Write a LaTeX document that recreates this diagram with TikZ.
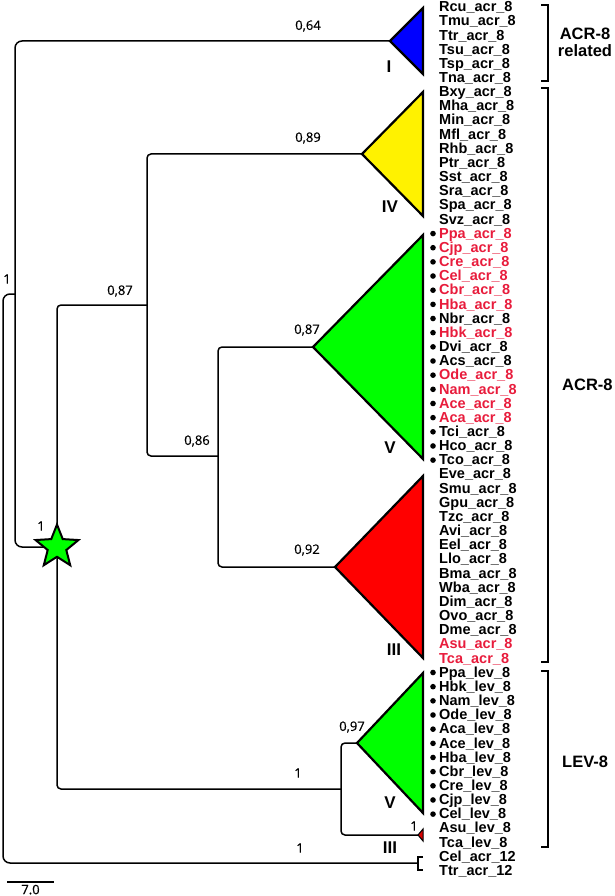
\documentclass[tikz,border=0pt]{standalone}
\usepackage{fontspec}
\setmainfont{Liberation Sans}
\newfontfamily\valfont[FakeBold=0.6]{Open Sans}
\usetikzlibrary{shapes.geometric}
\definecolor{hlred}{RGB}{232,28,60}
\begin{document}
\begin{tikzpicture}[x=1pt,y=-1pt,
  treeline/.style={line width=1.5, rounded corners=4},
  clade/.style={draw=black, line width=2.2, line join=miter},
  groupbracket/.style={line width=2.5},
  taxon/.style={anchor=base west, inner sep=0, font=\fontsize{14.5}{16}\selectfont\bfseries},
  val/.style={inner sep=0, font=\valfont\fontsize{13}{14}\selectfont},
  cladeid/.style={inner sep=0, font=\fontsize{17}{18}\selectfont\bfseries},
  clustername/.style={inner sep=0, align=center, font=\fontsize{16.5}{17}\selectfont\bfseries},
  startip/.style={star, star points=5, star point ratio=2.3, minimum size=45, inner sep=0, draw, fill=green, line width=2}]
\useasboundingbox (0,0) rectangle (615,896);
\coordinate (root) at (3,578);
\coordinate (nA) at (15,294);
\coordinate (nStar) at (57,547);
\coordinate (n87) at (147,305);
\coordinate (n86) at (218,456);
\coordinate (nLev) at (341,789);
\coordinate (out12) at (418,863);
\coordinate (apI) at (390,41);
\coordinate (apIV) at (362,154);
\coordinate (apV) at (313,347);
\coordinate (apIII) at (335,567);
\coordinate (apLevV) at (357,743);
\coordinate (apLevIII) at (418,835);
\coordinate (cel12) at (423,857);
\coordinate (ttr12) at (423,870);
\draw[treeline, rounded corners=7] (nA) -| (root) |- (out12);
\draw[treeline, rounded corners=7] (apI) -| (nA) |- (nStar);
\draw[treeline] (n87) -| (nStar) |- (nLev);
\draw[treeline] (apIV) -| (n87) |- (n86);
\draw[treeline] (apV) -| (n86) |- (apIII);
\draw[treeline] (apLevV) -| (nLev) |- (apLevIII);
\draw[line width=1.5] (cel12) -| (out12) |- (ttr12);
\node[startip] (star) at (nStar) {};
\draw[clade, fill=blue] (apI) -- (423,8) -- (423,74) -- cycle;
\draw[clade, fill=yellow] (apIV) -- (423,92) -- (423,216) -- cycle;
\draw[clade, fill=green] (apV) -- (423,235) -- (423,459) -- cycle;
\draw[clade, fill=red] (apIII) -- (423,476) -- (423,658) -- cycle;
\draw[clade, fill=green] (apLevV) -- (423,673) -- (423,813) -- cycle;
\draw[line width=1, fill=red!85!black] (apLevIII) -- (423,829) -- (423,841) -- cycle;
\node[val] (b1) at (7,279) {1};
\node[val] (b2) at (308,26) {0,64};
\node[val] (b3) at (308,138) {0,89};
\node[val] (b4) at (120,291) {0,87};
\node[val] (b5) at (197,441) {0,86};
\node[val] (b6) at (307,330) {0,87};
\node[val] (b7) at (307,550) {0,92};
\node[val] (b8) at (41,526) {1};
\node[val] (b9) at (298,773) {1};
\node[val] (b10) at (352,727) {0,97};
\node[val] (b11) at (414,826) {1};
\node[val] (b12) at (300,848) {1};
\node[cladeid] (cI) at (389,67) {I};
\node[cladeid] (cIV) at (390,207) {IV};
\node[cladeid] (cV) at (390,448) {V};
\node[cladeid] (cIII) at (394,650) {III};
\node[cladeid] (cLevV) at (390,803) {V};
\node[cladeid] (cLevIII) at (390,848) {III};
\foreach \tx/\c [count=\i from 0] in {Rcu/black,Tmu/black,Ttr/black,Tsu/black,Tsp/black,Tna/black,
  Bxy/black,Mha/black,Min/black,Mfl/black,Rhb/black,Ptr/black,Sst/black,Sra/black,Spa/black,Svz/black,
  Ppa/hlred,Cjp/hlred,Cre/hlred,Cel/hlred,Cbr/hlred,Hba/hlred,Nbr/black,Hbk/hlred,Dvi/black,Acs/black,
  Ode/hlred,Nam/hlred,Ace/hlred,Aca/hlred,Tci/black,Hco/black,Tco/black,
  Eve/black,Smu/black,Gpu/black,Tzc/black,Avi/black,Eel/black,Llo/black,Bma/black,Wba/black,Dim/black,
  Ovo/black,Dme/black,Asu/hlred,Tca/hlred}
  \node[taxon, text=\c] (t\i) at (439,{11.7+14.16*\i}) {\tx\_acr\_8};
\foreach \tx [count=\i from 47] in {Ppa,Hbk,Nam,Ode,Aca,Ace,Hba,Cbr,Cre,Cjp,Cel,Asu,Tca}
  \node[taxon] (t\i) at (439,{11.7+14.16*\i}) {\tx\_lev\_8};
\foreach \tx [count=\i from 60] in {Cel,Ttr}
  \node[taxon] (t\i) at (439,{11.7+14.16*\i}) {\tx\_acr\_12};
\foreach \i in {16,...,32}
  \fill (433,{7+14.16*\i}) circle (2.8);
\foreach \i in {47,...,57}
  \fill (433,{7+14.16*\i}) circle (2.8);
\draw[groupbracket] (541,5) -| (548,81) -- (541,81);
\draw[groupbracket] (541,88) -| (548,662) -- (541,662);
\draw[groupbracket] (541,671) -| (548,847) -- (541,847);
\node[clustername] (gRel) at (585,42) {ACR-8\\related};
\node[clustername, anchor=west] (gAcr) at (562,385) {ACR-8};
\node[clustername, anchor=west] (gLev) at (562,762) {LEV-8};
\draw[line width=1.5] (7,882) -- (54,882) node[val, midway, below=2] (scale) {7.0};
\end{tikzpicture}
\end{document}
